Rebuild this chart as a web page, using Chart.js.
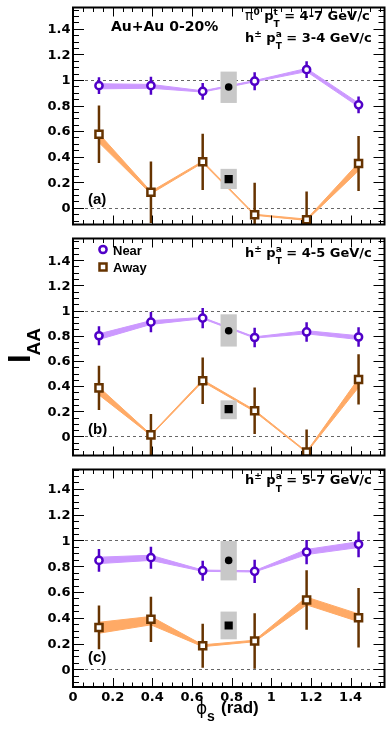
<!DOCTYPE html>
<html>
<head>
<meta charset="utf-8">
<script src="https://cdn.jsdelivr.net/npm/chart.js@4/dist/chart.umd.min.js"></script>
<style>
html, body { margin: 0; padding: 0; background: #fff; width: 389px; height: 733px; overflow: hidden; }
canvas { position: absolute; left: 0; }
</style>
</head>
<body>
<canvas id="panelA" width="392" height="232" style="top:0px"></canvas>
<canvas id="panelB" width="392" height="232" style="top:231px"></canvas>
<canvas id="panelC" width="392" height="271" style="top:462px"></canvas>
<script>
// trigger-particle azimuth bins (rad) and the inclusive point
const phiS = [0.131, 0.393, 0.654, 0.916, 1.178, 1.440];
const phiRef = 0.785;
const xTickLabels = ['0', '0.2', '0.4', '0.6', '0.8', '1', '1.2', '1.4'];
const yTickLabels = ['0', '0.2', '0.4', '0.6', '0.8', '1', '1.2', '1.4'];

// (a) assoc pT 3-4 GeV/c
const nearA = [0.955, 0.955, 0.91, 0.99, 1.08, 0.805];
const nearErrA = [0.065, 0.07, 0.065, 0.07, 0.065, 0.065];
const nearSysLoA = [0.93, 0.935, 0.905, 0.985, 1.065, 0.79];
const nearSysHiA = [0.97, 0.965, 0.915, 0.995, 1.09, 0.82];
const awayA = [0.575, 0.122, 0.36, -0.054, -0.093, 0.347];
const awayErrA = [0.225, 0.24, 0.22, 0.25, 0.22, 0.215];
const awaySysLoA = [0.51, 0.11, 0.352, -0.058, -0.098, 0.29];
const awaySysHiA = [0.58, 0.128, 0.365, -0.05, -0.088, 0.352];
const refNearA = [0.945, 0.82, 1.065];
const refAwayA = [0.225, 0.147, 0.305];

// (b) assoc pT 4-5 GeV/c
const nearB = [0.80, 0.908, 0.94, 0.786, 0.83, 0.79];
const nearErrB = [0.075, 0.08, 0.08, 0.077, 0.077, 0.078];
const nearSysLoB = [0.77, 0.89, 0.935, 0.781, 0.815, 0.77];
const nearSysHiB = [0.815, 0.92, 0.945, 0.791, 0.84, 0.80];
const awayB = [0.386, 0.013, 0.443, 0.204, -0.124, 0.453];
const awayErrB = [0.175, 0.165, 0.185, 0.185, 0.18, 0.2];
const awaySysLoB = [0.33, 0.008, 0.435, 0.197, -0.128, 0.39];
const awaySysHiB = [0.392, 0.016, 0.45, 0.21, -0.12, 0.46];
const refNearB = [0.84, 0.714, 0.97];
const refAwayB = [0.217, 0.137, 0.287];

// (c) assoc pT 5-7 GeV/c
const nearC = [0.845, 0.866, 0.765, 0.76, 0.91, 0.97];
const nearErrC = [0.088, 0.085, 0.078, 0.09, 0.094, 0.1];
const nearSysLoC = [0.82, 0.845, 0.76, 0.755, 0.89, 0.945];
const nearSysHiC = [0.87, 0.885, 0.77, 0.765, 0.93, 0.99];
const awayC = [0.325, 0.388, 0.183, 0.22, 0.538, 0.40];
const awayErrC = [0.17, 0.175, 0.17, 0.215, 0.23, 0.23];
const awaySysLoC = [0.28, 0.345, 0.176, 0.214, 0.50, 0.37];
const awaySysHiC = [0.365, 0.41, 0.19, 0.226, 0.56, 0.43];
const refNearC = [0.845, 0.69, 0.995];
const refAwayC = [0.34, 0.233, 0.448];

const NEAR = '#5000c8';
const NEAR_BAND = '#cc99ff';
const AWAY = '#663300';
const AWAY_BAND = '#ffaa66';
const BOX = '#c8c8c8';
const TICK_FONT = 'bold 13px "DejaVu Sans"';
const TEXT_FONT = 'bold 13px "DejaVu Sans"';
const IDX_FONT = 'bold 9px "DejaVu Sans"';

const pts = ys => phiS.map((x, i) => ({ x: x, y: ys[i] }));

// text with stacked super/subscripts
function drawRuns(ctx, x, y, runs) {
  ctx.textAlign = 'left';
  ctx.textBaseline = 'alphabetic';
  for (const r of runs) {
    ctx.font = r.font;
    if (r.sup !== undefined || r.sub !== undefined) {
      let w = 0;
      if (r.sup) { ctx.fillText(r.sup, x, y - 5); w = ctx.measureText(r.sup).width; }
      if (r.sub) { ctx.fillText(r.sub, x, y + 7.5); w = Math.max(w, ctx.measureText(r.sub).width); }
      x += w;
    } else {
      ctx.fillText(r.text, x, y + (r.dy || 0));
      x += ctx.measureText(r.text).width;
    }
  }
}

function assocLabel(ctx, y, range) {
  drawRuns(ctx, 245, y, [
    { text: 'h', font: TEXT_FONT },
    { sup: '\u00b1', font: IDX_FONT },
    { text: ' p', font: TEXT_FONT },
    { sup: 'a', sub: 'T', font: IDX_FONT },
    { text: ' = ' + range + ' GeV/c', font: TEXT_FONT }
  ]);
}

function panelTag(ctx, tag, y) {
  ctx.font = 'bold 15px "Liberation Sans"';
  ctx.textAlign = 'left';
  ctx.textBaseline = 'alphabetic';
  ctx.fillText(tag, 88, y);
}

function marker(ctx, style, x, y, color) {
  ctx.save();
  ctx.lineWidth = 2.5;
  ctx.strokeStyle = color;
  ctx.fillStyle = '#fff';
  ctx.beginPath();
  if (style === 'circle') ctx.arc(x, y, 3.6, 0, Math.PI * 2);
  else ctx.rect(x - 3.5, y - 3.5, 7, 7);
  ctx.fill();
  ctx.stroke();
  ctx.restore();
}

function panelPlugin(drawText, showX) {
  return {
    id: 'panel',
    beforeDatasetsDraw(chart) {
      const { ctx, chartArea: a, scales: { y } } = chart;
      ctx.save();
      ctx.strokeStyle = '#666';
      ctx.lineWidth = 1;
      ctx.setLineDash([3, 3]);
      [0, 1].forEach(v => {
        const py = Math.round(y.getPixelForValue(v)) + 0.5;
        ctx.beginPath();
        ctx.moveTo(a.left, py);
        ctx.lineTo(a.right, py);
        ctx.stroke();
      });
      ctx.restore();
    },
    beforeDatasetDraw(chart, args) {
      const ds = chart.data.datasets[args.index];
      const { ctx, chartArea: a, scales: { x, y } } = chart;
      ctx.save();
      ctx.beginPath();
      ctx.rect(a.left, a.top, a.right - a.left, a.bottom - a.top);
      ctx.clip();
      if (ds.boxes) {
        ctx.fillStyle = BOX;
        ds.boxes.forEach(b => {
          const x0 = x.getPixelForValue(phiRef - 0.041);
          const x1 = x.getPixelForValue(phiRef + 0.041);
          const y0 = y.getPixelForValue(b[2]);
          const y1 = y.getPixelForValue(b[1]);
          ctx.fillRect(x0, y0, x1 - x0, y1 - y0);
        });
      }
      if (ds.errs) {
        ctx.strokeStyle = ds.errColor;
        ctx.lineWidth = 2.5;
        ctx.beginPath();
        ds.data.forEach((p, i) => {
          const px = x.getPixelForValue(p.x);
          ctx.moveTo(px, y.getPixelForValue(p.y - ds.errs[i]));
          ctx.lineTo(px, y.getPixelForValue(p.y + ds.errs[i]));
        });
        ctx.stroke();
      }
      ctx.restore();
    },
    afterDraw(chart) {
      const { ctx, chartArea: a, scales: { x, y } } = chart;
      ctx.save();
      ctx.strokeStyle = '#000';
      ctx.lineWidth = 1;
      ctx.beginPath();
      for (let k = Math.ceil(y.min / 0.05); k * 0.05 <= y.max; k++) {
        const py = Math.round(y.getPixelForValue(k * 0.05)) + 0.5;
        const len = k % 4 === 0 ? 11 : 6;
        ctx.moveTo(a.left, py); ctx.lineTo(a.left + len, py);
        ctx.moveTo(a.right, py); ctx.lineTo(a.right - len, py);
      }
      for (let k = 0; k * 0.05 <= x.max; k++) {
        const px = Math.round(x.getPixelForValue(k * 0.05)) + 0.5;
        const len = k % 4 === 0 ? 9 : 4.5;
        ctx.moveTo(px, a.top); ctx.lineTo(px, a.top + len);
        ctx.moveTo(px, a.bottom); ctx.lineTo(px, a.bottom - len);
      }
      ctx.stroke();
      ctx.lineWidth = 2;
      ctx.strokeRect(a.left, a.top, a.right - a.left, a.bottom - a.top);

      ctx.fillStyle = '#000';
      ctx.font = TICK_FONT;
      ctx.textAlign = 'right';
      ctx.textBaseline = 'middle';
      yTickLabels.forEach(t => ctx.fillText(t, a.left - 2.5, y.getPixelForValue(parseFloat(t)) + 1));
      if (showX) {
        ctx.textAlign = 'center';
        ctx.textBaseline = 'alphabetic';
        xTickLabels.forEach(t => ctx.fillText(t, x.getPixelForValue(parseFloat(t)), a.bottom + 14));
      }
      drawText(ctx, a);
      ctx.restore();
    }
  };
}

function makePanel(id, d, yMin, yMax, padBottom, drawText, showX) {
  const band = (ys, color, fill) => ({
    data: pts(ys), fill: fill, backgroundColor: color, borderColor: color,
    borderWidth: 1, pointRadius: 0, tension: 0, order: 5
  });
  return new Chart(document.getElementById(id), {
    type: 'line',
    data: {
      datasets: [
        band(d.nearHi, NEAR_BAND, '+1'),
        band(d.nearLo, NEAR_BAND, false),
        band(d.awayHi, AWAY_BAND, '+1'),
        band(d.awayLo, AWAY_BAND, false),
        {
          data: [{ x: phiRef, y: d.refNear[0] }], showLine: false, pointStyle: 'circle',
          pointRadius: 3.8, backgroundColor: '#000', borderWidth: 0, order: 3,
          boxes: [d.refNear, d.refAway]
        },
        {
          data: [{ x: phiRef, y: d.refAway[0] }], showLine: false, pointStyle: 'rect',
          pointRadius: 5.8, backgroundColor: '#000', borderWidth: 0, order: 2
        },
        {
          data: pts(d.near), showLine: false, pointStyle: 'circle', pointRadius: 3.6,
          borderWidth: 2.5, borderColor: NEAR, backgroundColor: '#fff', order: 1,
          errs: d.nearErr, errColor: NEAR
        },
        {
          data: pts(d.away), showLine: false, pointStyle: 'rect', pointRadius: 5,
          borderWidth: 2.5, borderColor: AWAY, backgroundColor: '#fff', order: 0,
          errs: d.awayErr, errColor: AWAY
        }
      ]
    },
    options: {
      responsive: false,
      animation: false,
      devicePixelRatio: 1,
      events: [],
      layout: { padding: { left: 73, right: 1, top: 0, bottom: padBottom } },
      plugins: { legend: { display: false }, tooltip: { enabled: false } },
      scales: {
        x: { type: 'linear', min: 0, max: Math.PI / 2, display: false },
        y: { type: 'linear', min: yMin, max: yMax, display: false }
      }
    },
    plugins: [panelPlugin(drawText, showX)]
  });
}

makePanel('panelA', {
  near: nearA, nearErr: nearErrA, nearLo: nearSysLoA, nearHi: nearSysHiA,
  away: awayA, awayErr: awayErrA, awayLo: awaySysLoA, awayHi: awaySysHiA,
  refNear: refNearA, refAway: refAwayA
}, -0.130, 1.566, 1, ctx => {
  ctx.font = 'bold 14px "DejaVu Sans"';
  ctx.textAlign = 'left';
  ctx.fillText('Au+Au 0-20%', 111, 27);
  drawRuns(ctx, 245, 19.5, [
    { text: '\u03c0', font: '14px "DejaVu Sans"' },
    { sup: '0', font: IDX_FONT },
    { text: ' p', font: TEXT_FONT },
    { sup: 't', sub: 'T', font: IDX_FONT },
    { text: ' = 4-7 GeV/c', font: TEXT_FONT }
  ]);
  assocLabel(ctx, 41.5, '3-4');
  panelTag(ctx, '(a)', 204);
}, false);

makePanel('panelB', {
  near: nearB, nearErr: nearErrB, nearLo: nearSysLoB, nearHi: nearSysHiB,
  away: awayB, awayErr: awayErrB, awayLo: awaySysLoB, awayHi: awaySysHiB,
  refNear: refNearB, refAway: refAwayB
}, -0.151, 1.572, 1, ctx => {
  // legend
  marker(ctx, 'circle', 103, 18.5, NEAR);
  marker(ctx, 'rect', 103, 36, AWAY);
  ctx.fillStyle = '#000';
  ctx.font = 'bold 13px "Liberation Sans"';
  ctx.textAlign = 'left';
  ctx.textBaseline = 'alphabetic';
  ctx.fillText('Near', 113, 24);
  ctx.fillText('Away', 113, 40.5);
  assocLabel(ctx, 25.5, '4-5');
  panelTag(ctx, '(b)', 202.5);
  // y axis title
  ctx.save();
  ctx.translate(30, 132);
  ctx.rotate(-Math.PI / 2);
  ctx.font = 'bold 31px "Liberation Sans"';
  ctx.fillText('I', 0, 0);
  ctx.restore();
  ctx.save();
  ctx.translate(40, 124.5);
  ctx.rotate(-Math.PI / 2);
  ctx.font = 'bold 19px "Liberation Sans"';
  ctx.fillText('AA', 0, 0);
  ctx.restore();
}, false);

makePanel('panelC', {
  near: nearC, nearErr: nearErrC, nearLo: nearSysLoC, nearHi: nearSysHiC,
  away: awayC, awayErr: awayErrC, awayLo: awaySysLoC, awayHi: awaySysHiC,
  refNear: refNearC, refAway: refAwayC
}, -0.137, 1.550, 46, ctx => {
  assocLabel(ctx, 22, '5-7');
  panelTag(ctx, '(c)', 200);
  // x axis title
  ctx.textAlign = 'left';
  ctx.textBaseline = 'alphabetic';
  ctx.font = '17px "DejaVu Sans"';
  ctx.fillText('\u03d5', 196, 252);
  ctx.font = 'bold 14px "Liberation Sans"';
  ctx.fillText('s', 207, 259);
  ctx.font = 'bold 17px "Liberation Sans"';
  ctx.fillText('(rad)', 221, 250.5);
}, true);
</script>
</body>
</html>
